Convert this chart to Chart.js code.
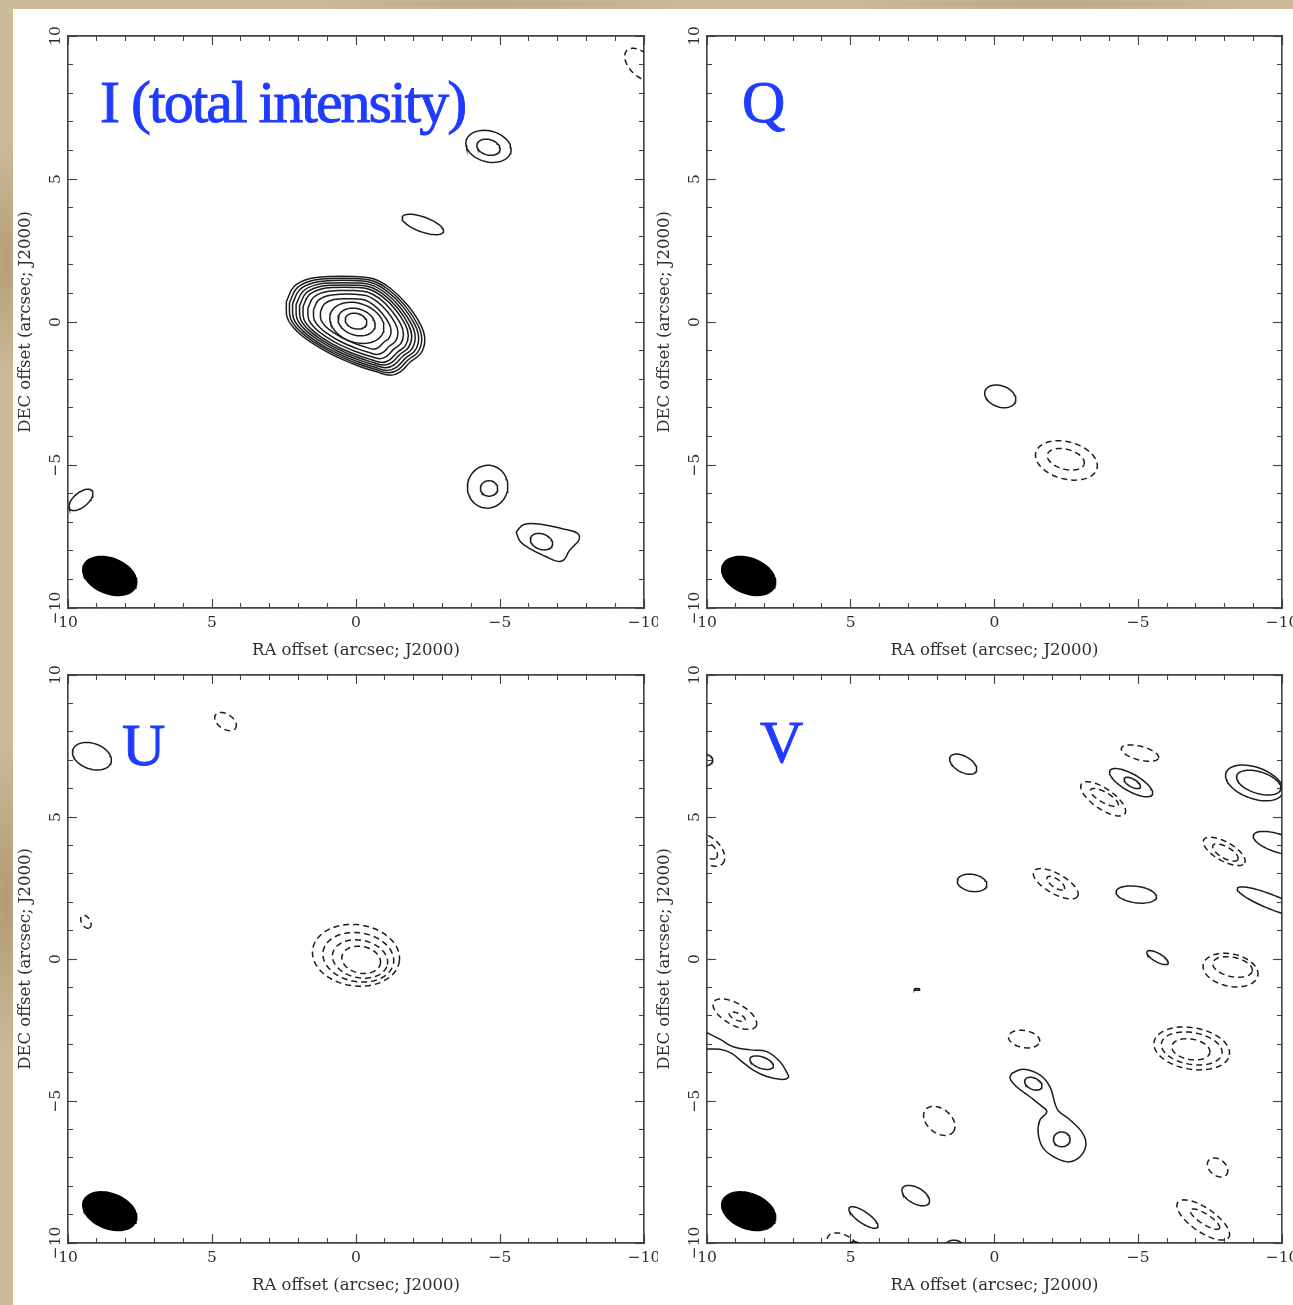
<!DOCTYPE html>
<html>
<head>
<meta charset="utf-8">
<title>Stokes I, Q, U, V maps</title>
<script src="https://cdn.jsdelivr.net/npm/chart.js@4.4.1/dist/chart.umd.min.js"></script>
<style>
  html, body { margin: 0; padding: 0; }
  body {
    width: 1293px; height: 1305px; overflow: hidden; position: relative;
    background:
      radial-gradient(ellipse 30px 120px at 6px 260px, rgba(150,125,80,.45), transparent),
      radial-gradient(ellipse 30px 160px at 6px 900px, rgba(140,115,70,.45), transparent),
      radial-gradient(ellipse 200px 8px at 500px 4px, rgba(160,140,100,.4), transparent),
      radial-gradient(ellipse 220px 8px at 1050px 4px, rgba(150,130,90,.35), transparent),
      #cbbb98;
  }
  .sheet { position: absolute; left: 13px; top: 9px; right: 0; bottom: 0; background: #fff; }
  canvas { position: absolute; }
  .tag {
    position: absolute; z-index: 2; white-space: nowrap;
    font-family: "Liberation Serif", "Times New Roman", serif;
    font-size: 60px; line-height: 60px; color: #1f3bff;
    -webkit-text-stroke: 0.9px #1f3bff;
  }
</style>
</head>
<body>
<div class="sheet"></div>
<canvas id="panelI" width="645" height="655" style="left:13px;top:9px"></canvas>
<canvas id="panelQ" width="644" height="655" style="left:652px;top:9px"></canvas>
<canvas id="panelU" width="645" height="651" style="left:13px;top:648px"></canvas>
<canvas id="panelV" width="644" height="651" style="left:652px;top:648px"></canvas>
<div class="tag" id="tagI" style="left:100px;top:72px;letter-spacing:-2px"></div>
<div class="tag" id="tagQ" style="left:742px;top:72px"></div>
<div class="tag" id="tagU" style="left:122px;top:715px"></div>
<div class="tag" id="tagV" style="left:760px;top:712px"></div>

<script>
"use strict";

const majorTicks = [10, 5, 0, -5, -10];
const minorTicks = [10, 9, 8, 7, 6, 5, 4, 3, 2, 1, 0, -1, -2, -3, -4, -5, -6, -7, -8, -9, -10];
const xTitle = "RA offset (arcsec; J2000)";
const yTitle = "DEC offset (arcsec; J2000)";
const panelLabels = ["I (total intensity)", "Q", "U", "V"];

// restoring beam: RA, Dec, semi-major, semi-minor, tilt (deg)
const beam = [8.55, -8.88, 0.98, 0.62, -22];

// contours as ellipses: RA, Dec, semi-major, semi-minor, tilt (deg), dashed (negative level)
const iEllipses = [
  [-9.9, 9.0, 0.7, 0.4, -45, 1],
  [-4.6, 6.14, 0.8, 0.54, -15, 0],
  [-4.6, 6.11, 0.41, 0.27, -15, 0],
  [-2.32, 3.41, 0.76, 0.26, -20, 0],
  [9.55, -6.22, 0.5, 0.25, 40, 0],
  [-4.57, -5.76, 0.75, 0.7, 80, 0],
  [-4.62, -5.82, 0.3, 0.27, 0, 0],
  [-6.44, -7.68, 0.4, 0.27, -20, 0],
  [0.0, 0.03, 0.38, 0.27, -15, 0],
  [-0.02, 0.0, 0.66, 0.46, -18, 0],
  [-0.03, -0.03, 0.97, 0.68, -20, 0],
];
// outer contours of the bright source: outline and the relative size of each level
const iCoreOutline = [
  [2.42, 0.71], [2.15, 1.24], [1.62, 1.51], [0.92, 1.59], [0.10, 1.59], [-0.60, 1.51],
  [-1.19, 1.18], [-1.78, 0.60], [-2.25, -0.11], [-2.39, -0.63], [-2.25, -1.10], [-1.89, -1.39],
  [-1.54, -1.74], [-1.19, -1.86], [-0.72, -1.74], [-0.02, -1.51], [0.80, -1.16], [1.50, -0.75],
  [2.03, -0.34], [2.38, 0.13],
];
const iCoreScales = [0.51, 0.61, 0.69, 0.76, 0.81, 0.86, 0.91, 0.955, 1];
const iBlobOutline = [
  [-5.56, -7.34], [-5.83, -7.08], [-6.42, -7.07], [-7.16, -7.23], [-7.68, -7.38], [-7.75, -7.60],
  [-7.57, -7.82], [-7.38, -8.04], [-7.23, -8.31], [-7.01, -8.37], [-6.57, -8.19], [-6.05, -7.93],
  [-5.71, -7.68],
];

const qEllipses = [
  [-0.2, -2.6, 0.56, 0.37, -20, 0],
  [-2.5, -4.84, 1.1, 0.65, -15, 1],
  [-2.48, -4.8, 0.66, 0.35, -15, 1],
];

const uEllipses = [
  [9.17, 7.14, 0.7, 0.45, -20, 0],
  [4.53, 8.36, 0.42, 0.26, -35, 1],
  [9.38, 1.31, 0.25, 0.15, -60, 1],
  [0.0, 0.13, 1.52, 1.08, -8, 1],
  [-0.08, 0.06, 1.24, 0.86, -10, 1],
  [-0.14, 0.0, 0.97, 0.66, -12, 1],
  [-0.18, -0.03, 0.68, 0.47, -12, 1],
];

const vEllipses = [
  [1.09, 6.86, 0.52, 0.28, -30, 0],
  [0.78, 2.68, 0.52, 0.3, -10, 0],
  [9.96, 3.84, 0.7, 0.42, -45, 1],
  [9.96, 3.84, 0.4, 0.22, -45, 1],
  [10.15, 7.0, 0.35, 0.22, 0, 0],
  [-5.06, 7.25, 0.67, 0.24, -15, 1],
  [-4.75, 6.21, 0.85, 0.3, -30, 0],
  [-4.79, 6.2, 0.32, 0.14, -30, 0],
  [-3.78, 5.64, 0.92, 0.36, -35, 1],
  [-3.82, 5.69, 0.55, 0.18, -30, 1],
  [-9.04, 6.2, 1.05, 0.55, -20, 0],
  [-9.19, 6.21, 0.8, 0.38, -18, 0],
  [-9.86, 4.08, 0.9, 0.32, -18, 0],
  [-7.99, 3.79, 0.82, 0.33, -30, 1],
  [-8.03, 3.75, 0.5, 0.2, -30, 1],
  [-9.65, 2.0, 1.3, 0.25, -22, 0],
  [-2.13, 2.65, 0.88, 0.35, -30, 1],
  [-2.13, 2.67, 0.36, 0.15, -35, 1],
  [-4.93, 2.27, 0.71, 0.29, -8, 0],
  [-5.67, 0.05, 0.42, 0.15, -30, 0],
  [-8.21, -0.39, 0.97, 0.57, -12, 1],
  [-8.28, -0.28, 0.7, 0.34, -12, 1],
  [9.03, -1.94, 0.85, 0.38, -30, 1],
  [8.95, -2.03, 0.3, 0.12, -25, 1],
  [8.10, -3.65, 0.43, 0.2, -20, 0],
  [2.7, -1.07, 0.1, 0.03, 0, 0],
  [1.92, -5.70, 0.62, 0.42, -40, 1],
  [2.74, -8.33, 0.53, 0.28, -30, 0],
  [4.56, -9.10, 0.6, 0.2, -35, 0],
  [5.27, -10.07, 0.6, 0.35, -30, 1],
  [4.89, -10.1, 0.2, 0.15, 0, 0],
  [1.41, -10.1, 0.3, 0.2, 0, 0],
  [-1.03, -2.82, 0.55, 0.3, -10, 1],
  [-1.35, -4.39, 0.32, 0.2, -25, 0],
  [-2.34, -6.35, 0.29, 0.26, 0, 0],
  [-6.86, -3.15, 1.33, 0.73, -10, 1],
  [-6.86, -3.15, 1.07, 0.56, -10, 1],
  [-6.83, -3.18, 0.67, 0.36, -10, 1],
  [-7.76, -7.34, 0.4, 0.28, -40, 1],
  [-7.26, -9.19, 1.08, 0.42, -35, 1],
  [-7.32, -9.16, 0.6, 0.18, -33, 1],
];
// open contour running out of the left edge
const vBridge = [
  [10.24, -2.46], [9.95, -2.62], [9.54, -2.83], [9.09, -3.09], [8.50, -3.20], [7.92, -3.26],
  [7.46, -3.62], [7.21, -4.02], [7.17, -4.17], [7.40, -4.24], [7.92, -4.14], [8.39, -3.91],
  [8.85, -3.56], [9.14, -3.32], [9.55, -3.18], [9.95, -3.17], [10.24, -3.17],
];
const vPeanut = [
  [-0.60, -4.02], [-1.00, -3.88], [-1.58, -4.08], [-1.93, -4.50], [-2.10, -5.08], [-2.22, -5.34],
  [-2.63, -5.67], [-3.03, -6.08], [-3.18, -6.49], [-3.03, -6.90], [-2.63, -7.14], [-2.16, -7.02],
  [-1.70, -6.67], [-1.52, -6.14], [-1.58, -5.67], [-1.82, -5.38], [-1.64, -5.18], [-1.23, -4.85],
  [-0.77, -4.50], [-0.54, -4.20],
];

const frameColor = "#444444";
const textColor = "#2e2e2e";
const lineColor = "#1c1c1c";
const tickFont = { family: "DejaVu Serif", size: 15.5 };
const titleFont = { family: "DejaVu Serif", size: 16.5 };

function fmt(v) {
  return v < 0 ? "\u2212" + Math.abs(v) : String(v);
}

function ellipsePoints(e) {
  const [ra, dec, a, b, tilt] = e;
  const t = tilt * Math.PI / 180;
  const pts = [];
  for (let k = 0; k <= 64; k++) {
    const s = k / 64 * 2 * Math.PI;
    const u = a * Math.cos(s);
    const v = b * Math.sin(s);
    // RA grows to the left, so the screen x part is flipped
    pts.push({ x: ra - (u * Math.cos(t) - v * Math.sin(t)), y: dec + (u * Math.sin(t) + v * Math.cos(t)) });
  }
  return pts;
}

function outlinePoints(list, scale, close) {
  const pts = list.map(p => ({ x: p[0] * scale, y: p[1] * scale }));
  if (close) pts.push(pts[0]);
  return pts;
}

function contourSet(points, dashed, tension) {
  return {
    data: points,
    showLine: true,
    pointRadius: 0,
    borderColor: lineColor,
    borderWidth: 1.5,
    borderDash: dashed ? [6, 4] : [],
    tension: tension || 0,
    fill: false,
  };
}

function beamSet() {
  const d = contourSet(ellipsePoints(beam), false, 0);
  d.fill = "shape";
  d.backgroundColor = "#000";
  d.borderColor = "#000";
  return d;
}

function ellipseSets(list) {
  return list.map(e => contourSet(ellipsePoints(e), e[5] === 1, 0));
}

function makeAxis(position, major) {
  const horizontal = position === "top" || position === "bottom";
  const labelled = major && (position === "bottom" || position === "left");
  const list = major ? majorTicks : minorTicks;
  return {
    type: "linear",
    axis: horizontal ? "x" : "y",
    position: position,
    min: -10,
    max: 10,
    reverse: horizontal,
    weight: major ? 0 : -1,
    afterBuildTicks: function (s) {
      s.ticks = list.map(v => ({ value: v }));
    },
    afterFit: function (s) {
      if (horizontal) s.height = labelled ? 56 : 0;
      else s.width = labelled ? 55 : 0;
      s.paddingLeft = 0;
      s.paddingRight = 0;
      s.paddingTop = 0;
      s.paddingBottom = 0;
    },
    grid: {
      display: true,
      drawOnChartArea: false,
      drawTicks: true,
      tickLength: major ? -9 : -5,
      tickColor: frameColor,
      tickWidth: 1.1,
    },
    border: { display: true, color: frameColor, width: 1.4 },
    ticks: {
      display: labelled,
      autoSkip: false,
      padding: horizontal ? 15 : 5,
      minRotation: horizontal ? 0 : 90,
      maxRotation: horizontal ? 0 : 90,
      crossAlign: horizontal ? "near" : "center",
      font: tickFont,
      color: textColor,
      callback: v => fmt(v),
    },
    title: {
      display: labelled,
      text: horizontal ? xTitle : yTitle,
      font: titleFont,
      color: textColor,
      padding: horizontal ? { top: 0, bottom: 3 } : { top: 3, bottom: 0 },
    },
  };
}

function makeChart(canvasId, datasets) {
  new Chart(document.getElementById(canvasId), {
    type: "scatter",
    data: { datasets: datasets },
    options: {
      responsive: false,
      animation: false,
      devicePixelRatio: 1,
      events: [],
      layout: { padding: { left: 0, top: 27, right: 14, bottom: 0 } },
      plugins: { legend: { display: false }, tooltip: { enabled: false } },
      scales: {
        x: makeAxis("bottom", true),
        xMinor: makeAxis("bottom", false),
        xTop: makeAxis("top", true),
        xTopMinor: makeAxis("top", false),
        y: makeAxis("left", true),
        yMinor: makeAxis("left", false),
        yRight: makeAxis("right", true),
        yRightMinor: makeAxis("right", false),
      },
    },
  });
}

let iSets = [beamSet()].concat(ellipseSets(iEllipses));
iCoreScales.forEach(s => iSets.push(contourSet(outlinePoints(iCoreOutline, s, true), false, 0.4)));
iSets.push(contourSet(outlinePoints(iBlobOutline, 1, true), false, 0.4));

let qSets = [beamSet()].concat(ellipseSets(qEllipses));
let uSets = [beamSet()].concat(ellipseSets(uEllipses));

let vSets = [beamSet()].concat(ellipseSets(vEllipses));
vSets.push(contourSet(outlinePoints(vBridge, 1, false), false, 0.4));
vSets.push(contourSet(outlinePoints(vPeanut, 1, true), false, 0.4));

makeChart("panelI", iSets);
makeChart("panelQ", qSets);
makeChart("panelU", uSets);
makeChart("panelV", vSets);

document.getElementById("tagI").textContent = panelLabels[0];
document.getElementById("tagQ").textContent = panelLabels[1];
document.getElementById("tagU").textContent = panelLabels[2];
document.getElementById("tagV").textContent = panelLabels[3];
</script>
</body>
</html>
